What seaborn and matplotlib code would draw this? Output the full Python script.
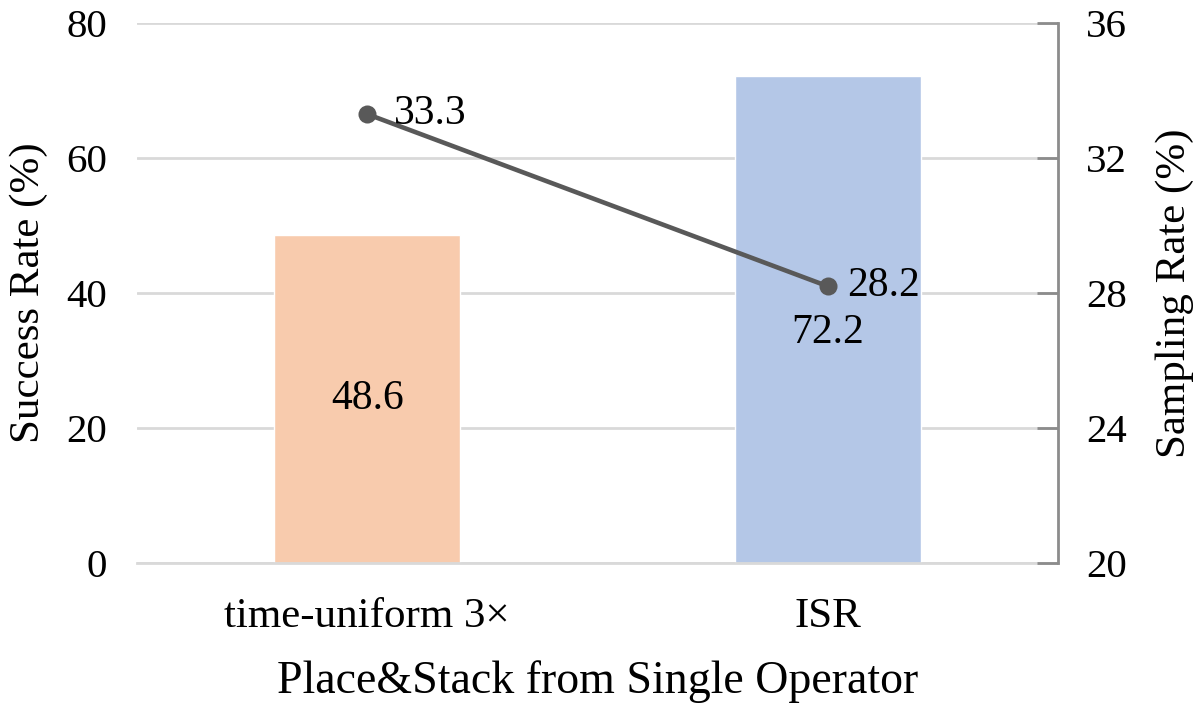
import matplotlib
matplotlib.use("Agg")
import matplotlib.pyplot as plt
import seaborn as sns
import pandas as pd

categories = ["time-uniform 3×", "ISR"]
success_rate = [48.6, 72.2]
sampling_rate = [33.3, 28.2]
bar_colors = ["#F8CBAD", "#B4C7E7"]
left_ticks = [0, 20, 40, 60, 80]
right_ticks = [20, 24, 28, 32, 36]

sns.set_theme(style="white")
plt.rcParams["font.family"] = ["Liberation Serif", "DejaVu Serif"]

df = pd.DataFrame({"cat": categories, "succ": success_rate, "samp": sampling_rate})

fig = plt.figure(figsize=(12.03, 7.16), dpi=100)
ax = fig.add_axes([137/1203, 1-563/716, (1058-137)/1203, (563-23)/716])

sns.barplot(data=df, x="cat", y="succ", hue="cat", palette=bar_colors,
            width=0.403, legend=False, ax=ax, saturation=1)
ax.set_ylim(0, 80)
ax.set_yticks(left_ticks)
ax.set_xlim(-0.5, 1.5)
ax.yaxis.grid(True, color="#D9D9D9", linewidth=2)
ax.set_axisbelow(True)
for s in ["top", "left", "right"]:
    ax.spines[s].set_visible(False)
ax.spines["bottom"].set_color("#D9D9D9")
ax.spines["bottom"].set_linewidth(2)
ax.tick_params(axis="y", length=0, labelsize=29.5, pad=21.5, labelcolor="black")
ax.tick_params(axis="x", which="major", length=0, labelsize=31, pad=25, labelcolor="black")
ax.set_xticks([-0.5, 0.5, 1.5], minor=True)
ax.tick_params(axis="x", which="minor", length=15, width=2, color="#D9D9D9", direction="out")
ax.set_xlabel("Place&Stack from Single Operator", fontsize=33, labelpad=17, color="black")
ax.set_ylabel("Success Rate (%)", fontsize=31, labelpad=13.5, color="black")

label_dy = [0, -10]
for i, v in enumerate(success_rate):
    ax.annotate(f"{v:.1f}", (i, v/2), xytext=(0, label_dy[i]), textcoords="offset points",
                ha="center", va="center", fontsize=30, color="black")

ax2 = ax.twinx()
sns.lineplot(x=[0, 1], y=sampling_rate, ax=ax2, color="#595959", linewidth=3.3,
             marker="o", markersize=13, markeredgewidth=0)
ax2.set_xlim(-0.5, 1.5)
ax2.set_ylim(20, 36)
ax2.set_yticks(right_ticks)
for s in ["top", "left", "bottom"]:
    ax2.spines[s].set_visible(False)
ax2.spines["right"].set_color("#8C8C8C")
ax2.spines["right"].set_linewidth(2)
ax2.tick_params(axis="y", direction="in", length=15, width=2, color="#8C8C8C",
                labelsize=29.5, pad=20, labelcolor="black")
ax2.set_ylabel("Sampling Rate (%)", fontsize=31, labelpad=21, color="black")
label_dx = [19.5, 14]
for i, v in enumerate(sampling_rate):
    ax2.annotate(f"{v:.1f}", (i, v), xytext=(label_dx[i], 0), textcoords="offset points",
                 ha="left", va="center", fontsize=30, color="black")

fig.savefig("out.png", dpi=100)
